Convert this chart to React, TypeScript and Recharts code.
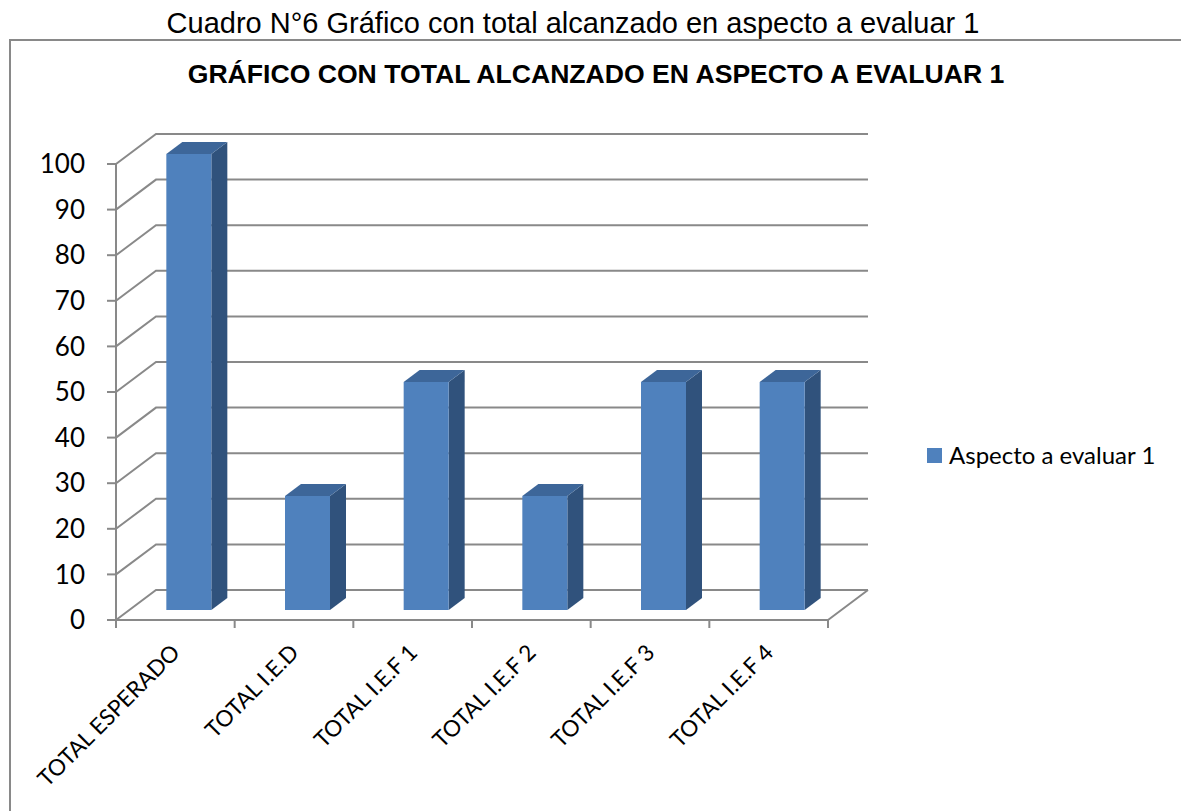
import React from "react";
import { BarChart, Bar, XAxis, YAxis, CartesianGrid, Legend } from "recharts";

const categories = ["TOTAL ESPERADO", "TOTAL I.E.D", "TOTAL I.E.F 1", "TOTAL I.E.F 2", "TOTAL I.E.F 3", "TOTAL I.E.F 4"];
const aspecto1 = [100, 25, 50, 25, 50, 50];
const yTicks = [0, 10, 20, 30, 40, 50, 60, 70, 80, 90, 100];

const seriesName = "Aspecto a evaluar 1";
const caption = "Cuadro N°6 Gráfico con total alcanzado en aspecto a evaluar 1";
const title = "GRÁFICO CON TOTAL ALCANZADO EN ASPECTO A EVALUAR 1";

const data = categories.map((name, i) => ({ name, value: aspecto1[i] }));

// 3D look: back wall is pushed right/up by DX/DY
const DX = 40;
const DY = -30;
const GRID = "#898989";
const FRONT = "#4F81BD";
const SIDE = "#30527C";
const TOP = "#3D6699";
const LABEL_FONT = "Lato, 'Open Sans', sans-serif";

function GridLine(props: any) {
  const { x1, y1, x2 } = props;
  const bottom = props.y != null && props.height != null && Math.abs(y1 - (props.y + props.height)) < 1;
  let d = `M${x1},${y1} L${x1 + DX},${y1 + DY} L${x2 + DX},${y1 + DY}`;
  if (bottom) d += ` M${x2},${y1} L${x2 + DX},${y1 + DY}`;
  return <path key={props.key} d={d} stroke={GRID} strokeWidth={2} fill="none" />;
}

function Bar3D(props: any) {
  const { x, y, width, height } = props;
  if (height == null || height <= 0) return null;
  // bar stands a third of the way into the depth
  const fx = x + DX / 3;
  const fy = y + DY / 3;
  const dd = 16;
  const dy = -12;
  return (
    <g>
      <polygon
        points={`${fx + width},${fy} ${fx + width + dd},${fy + dy} ${fx + width + dd},${fy + height + dy} ${fx + width},${fy + height}`}
        fill={SIDE}
      />
      <polygon
        points={`${fx},${fy} ${fx + dd},${fy + dy} ${fx + width + dd},${fy + dy} ${fx + width},${fy}`}
        fill={TOP}
      />
      <rect x={fx} y={fy} width={width} height={height} fill={FRONT} />
    </g>
  );
}

function XTick(props: any) {
  const { x, y, payload, index } = props;
  const half = payload && payload.offset ? payload.offset : 712 / 12;
  const ax = x + 6;
  const ay = y + 34;
  return (
    <g>
      <line x1={x - half} y1={y} x2={x - half} y2={y + 8} stroke={GRID} strokeWidth={2} />
      {index === categories.length - 1 && (
        <line x1={x + half} y1={y} x2={x + half} y2={y + 8} stroke={GRID} strokeWidth={2} />
      )}
      <text
        x={ax}
        y={ay}
        textAnchor="end"
        transform={`rotate(-45, ${ax}, ${ay})`}
        fontFamily={LABEL_FONT}
        fontSize={22.5}
        fill="#000"
      >
        {payload.value}
      </text>
    </g>
  );
}

function LegendBox() {
  return (
    <div style={{ display: "flex", alignItems: "flex-start", fontFamily: LABEL_FONT }}>
      <div style={{ width: 15, height: 15, background: FRONT, marginRight: 7 }} />
      <div style={{ fontSize: 24, lineHeight: "24px", marginTop: -5, color: "#000", whiteSpace: "nowrap" }}>
        {seriesName}
      </div>
    </div>
  );
}

export default function App() {
  return (
    <div style={{ position: "relative", width: 1181, height: 803, overflow: "hidden" }}>
      <div
        style={{
          position: "absolute",
          left: 0,
          top: 1,
          width: 1130,
          textAlign: "center",
          fontFamily: "'Liberation Sans', Arial, sans-serif",
          fontSize: 29,
          lineHeight: "29px",
          whiteSpace: "nowrap",
        }}
      >
        {caption}
      </div>
      <div
        style={{
          position: "absolute",
          left: 1,
          top: 31,
          width: 1177,
          height: 790,
          boxSizing: "border-box",
          border: `2px solid ${GRID}`,
          borderBottom: "none",
        }}
      />
      <div
        style={{
          position: "absolute",
          left: 0,
          top: 53,
          width: 1176,
          textAlign: "center",
          fontFamily: "'Liberation Sans', Arial, sans-serif",
          fontWeight: "bold",
          fontSize: 26.6,
          lineHeight: "26px",
          whiteSpace: "nowrap",
        }}
      >
        {title}
      </div>
      <div style={{ position: "absolute", left: 0, top: 0 }}>
        <BarChart
          width={1181}
          height={803}
          data={data}
          margin={{ top: 156, right: 361, bottom: 0, left: 0 }}
          barSize={45}
        >
          <CartesianGrid vertical={false} horizontal={(p: any) => <GridLine {...p} />} />
          <YAxis
            type="number"
            domain={[0, 100]}
            ticks={yTicks}
            interval={0}
            width={108}
            tickSize={9}
            tickMargin={22}
            axisLine={{ stroke: GRID, strokeWidth: 2 }}
            tickLine={{ stroke: GRID, strokeWidth: 2 }}
            tick={{ fill: "#000", fontSize: 26, fontFamily: LABEL_FONT }}
          />
          <XAxis
            dataKey="name"
            interval={0}
            height={191}
            tickSize={0}
            tickMargin={0}
            tickLine={false}
            axisLine={{ stroke: GRID, strokeWidth: 2 }}
            tick={(p: any) => <XTick {...p} />}
          />
          <Legend
            layout="vertical"
            align="center"
            verticalAlign="middle"
            wrapperStyle={{ left: 919, top: 440, width: "auto", height: "auto" }}
            content={() => <LegendBox />}
          />
          <Bar dataKey="value" name={seriesName} shape={(p: any) => <Bar3D {...p} />} isAnimationActive={false} />
        </BarChart>
      </div>
    </div>
  );
}
